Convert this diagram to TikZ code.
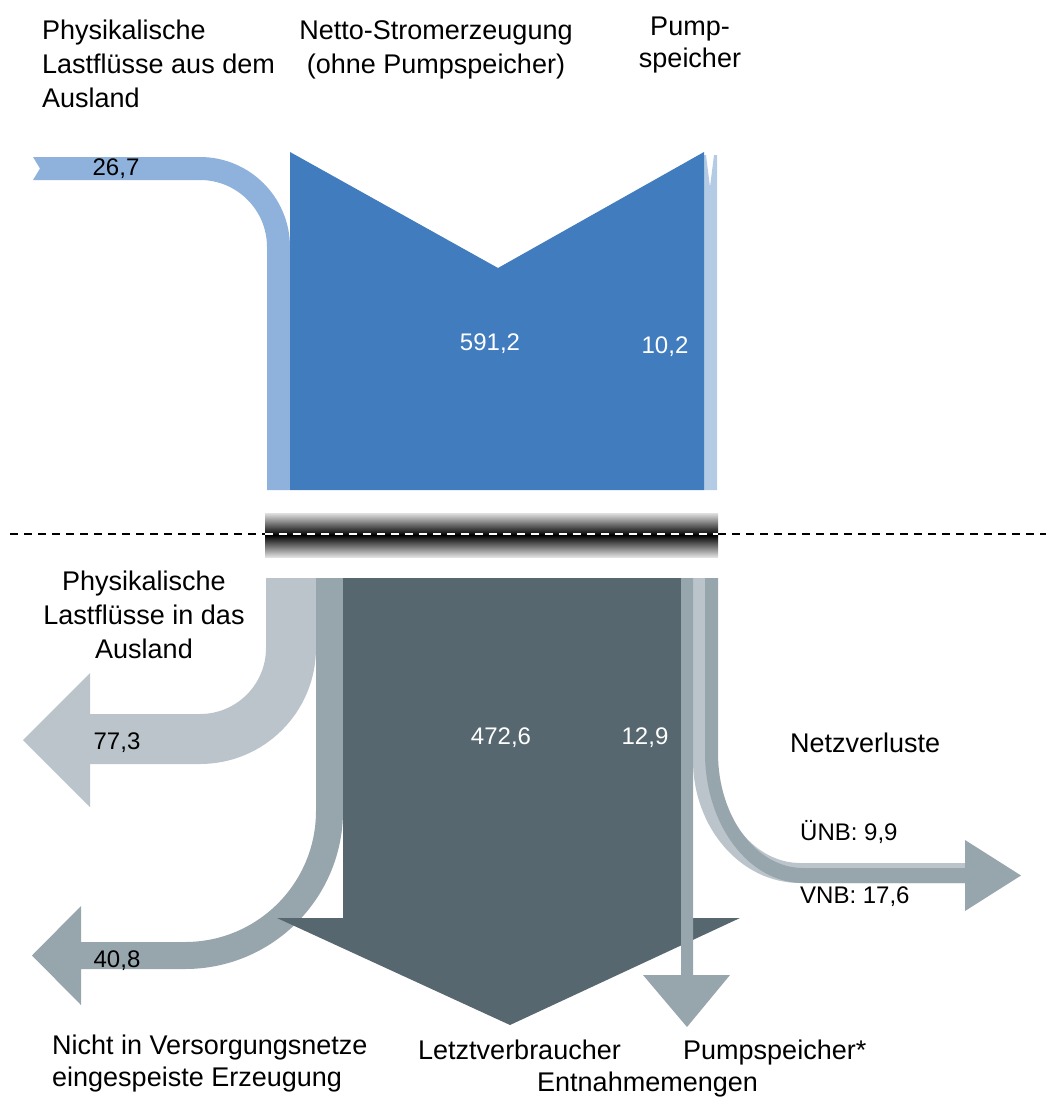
\documentclass[tikz,border=0pt]{standalone}
\usepackage{fontspec}
\setmainfont{Liberation Sans}
\definecolor{inflow}{HTML}{8EB2DB}
\definecolor{genblue}{HTML}{407CBE}
\definecolor{pumpblue}{HTML}{B4CBE6}
\definecolor{lgray}{HTML}{BBC4CA}
\definecolor{mgray}{HTML}{97A5AD}
\definecolor{dslate}{HTML}{57676F}
\begin{document}
\begin{tikzpicture}[x=1pt,y=-1pt,
  title/.style={font=\fontsize{27}{34}\selectfont, inner sep=0pt},
  num/.style={font=\fontsize{24}{28}\selectfont, inner sep=0pt},
  sep/.style={line width=2pt, dash pattern=on 7.5pt off 6.5pt}]
\useasboundingbox (0,0) rectangle (1046,1108);
% ---------- top: inflows ----------
\fill[inflow] (33,157) -- (200,157) .. controls (249.7,157) and (290,197.3) .. (290,247)
  -- (290,490) -- (267,490) -- (267,247) .. controls (267,210) and (237,180) .. (200,180)
  -- (33,180) -- (40,168.5) -- cycle;
\fill[pumpblue] (704,155) -- (706,155) -- (710,187) -- (714,155) -- (717,155) -- (717,490) -- (704,490) -- cycle;
\fill[genblue] (290,152) -- (498,268) -- (704,152) -- (704,490) -- (290,490) -- cycle;
% ---------- separator ----------
\shade[top color=white!88!black, bottom color=white!88!black, middle color=black] (265,513) rectangle (718,557);
\draw[sep] (10,534) -- (265,534);
\draw[sep] (718,534) -- (1046,534);
\draw[sep, white, line width=1.8pt] (265,534) -- (718,534);
% ---------- bottom: outflows ----------
% Ausland 77,3
\fill[lgray] (316,578) -- (316,648) .. controls (316,712.1) and (264.1,764) .. (200,764)
  -- (90,764) -- (90,807) -- (23,740) -- (90,673) -- (90,714) -- (200,714)
  .. controls (236.5,714) and (266,684.5) .. (266,648) -- (266,578) -- cycle;
% Nicht eingespeist 40,8
\fill[mgray] (343,578) -- (343,811) .. controls (343,898.3) and (272.3,969) .. (185,969)
  -- (81,969) -- (81,1005) -- (32,955.5) -- (81,906) -- (81,942) -- (185,942)
  .. controls (257.4,942) and (316,883.4) .. (316,811) -- (316,578) -- cycle;
% Netzverluste UeNB
\fill[lgray] (693,578) -- (693,760) .. controls (693,827.9) and (740.9,883) .. (800,883)
  -- (965,883) -- (965,863) -- (800,863) .. controls (755.3,863) and (717,816.9) .. (717,760)
  -- (717,578) -- cycle;
% Netzverluste VNB
\fill[mgray] (705,578) -- (705,753) .. controls (705,824.8) and (748.9,883) .. (803,883)
  -- (965,883) -- (965,911) -- (1021,875.5) -- (965,840) -- (965,868) -- (803,868)
  .. controls (756.1,868) and (718,816.5) .. (718,753) -- (718,578) -- cycle;
% Letztverbraucher
\fill[dslate] (343,578) -- (681,578) -- (681,918) -- (740,918) -- (510,1025) -- (277,918) -- (343,918) -- cycle;
% Pumpspeicher out
\fill[mgray] (681,578) -- (693,578) -- (693,975) -- (730,975) -- (687,1027) -- (643,975) -- (681,975) -- cycle;
% ---------- texts ----------
\node[title, align=left, anchor=north west] (tAusIn) at (42,20) {Physikalische\\Lastflüsse aus dem\\Ausland};
\node[title, align=center, anchor=north] (tNetto) at (436,20) {Netto-Stromerzeugung\\(ohne Pumpspeicher)};
\node[title, align=center, anchor=north, font=\fontsize{27}{32}\selectfont] (tPump) at (690,17) {Pump-\\speicher};
\node[title, align=center, anchor=north] (tAusOut) at (144,571) {Physikalische\\Lastflüsse in das\\Ausland};
\node[title, anchor=base west] (tNetz) at (790,752) {Netzverluste};
\node[num, anchor=base west] (tUNB) at (800,840) {ÜNB: 9,9};
\node[num, anchor=base west] (tVNB) at (800,903) {VNB: 17,6};
\node[title, align=left, anchor=north west, font=\fontsize{27}{32}\selectfont] (tNicht) at (52,1035) {Nicht in Versorgungsnetze\\eingespeiste Erzeugung};
\node[title, anchor=base west] (tLetzt) at (418,1059) {Letztverbraucher};
\node[title, anchor=base west] (tEntn) at (537,1091) {Entnahmemengen};
\node[title, anchor=base west] (tPumpOut) at (683,1059) {Pumpspeicher*};
% numbers
\node[num, anchor=base] (n267) at (116,175) {26,7};
\node[num, anchor=base, white] (n5912) at (490,350) {591,2};
\node[num, anchor=base, white] (n102) at (665,353) {10,2};
\node[num, anchor=base] (n773) at (117,749) {77,3};
\node[num, anchor=base] (n408) at (117,967) {40,8};
\node[num, anchor=base, white] (n4726) at (501,744) {472,6};
\node[num, anchor=base, white] (n129) at (645,744) {12,9};
\end{tikzpicture}
\end{document}
